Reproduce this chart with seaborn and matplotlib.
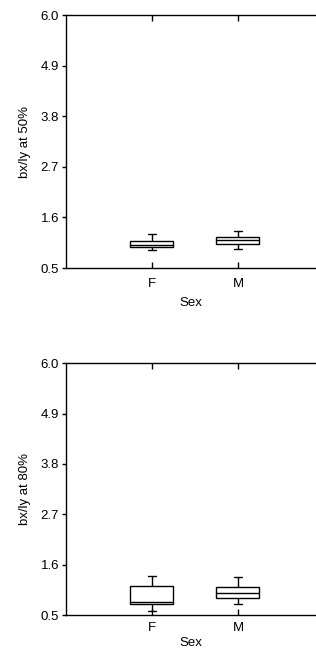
import matplotlib
matplotlib.use("Agg")
import matplotlib.pyplot as plt
import seaborn as sns
import pandas as pd
import numpy as np

sns.set_style("ticks")
plt.rcParams['font.family'] = ['Liberation Sans', 'DejaVu Sans']
plt.rcParams['text.color'] = 'black'
plt.rcParams['axes.labelcolor'] = 'black'
plt.rcParams['xtick.color'] = 'black'
plt.rcParams['ytick.color'] = 'black'

categories = ["F", "M"]
# five-number summaries (low whisker, Q1, median, Q3, high whisker)
vals_50_F = [0.89, 0.96, 1.00, 1.09, 1.24]
vals_50_M = [0.92, 1.02, 1.10, 1.18, 1.31]
vals_80_F = [0.59, 0.73, 0.79, 1.14, 1.36]
vals_80_M = [0.74, 0.88, 0.99, 1.12, 1.34]
yticks = [0.5, 1.6, 2.7, 3.8, 4.9, 6.0]
ytick_labels = ["0.5", "1.6", "2.7", "3.8", "4.9", "6.0"]

df50 = pd.DataFrame({"Sex": ["F"] * 5 + ["M"] * 5, "val": vals_50_F + vals_50_M})
df80 = pd.DataFrame({"Sex": ["F"] * 5 + ["M"] * 5, "val": vals_80_F + vals_80_M})

fig = plt.figure(figsize=(3.16, 6.54), dpi=100)
W, H = 316, 654
ax1 = fig.add_axes([66 / W, 1 - 268 / H, 250 / W, 253 / H])
ax2 = fig.add_axes([66 / W, 1 - 615 / H, 250 / W, 251.7 / H])

for ax, df, lab, xpad in [(ax1, df50, "bx/ly at 50%", 5), (ax2, df80, "bx/ly at 80%", 2)]:
    sns.boxplot(data=df, x="Sex", y="val", order=categories, ax=ax, whis=np.inf,
                width=0.5, color="white", linecolor="black", linewidth=1.0,
                capwidths=0.1)
    ax.set_ylim(0.5, 6.0)
    ax.set_xlim(-1.0, 1.907)
    ax.set_yticks(yticks)
    ax.set_yticklabels(ytick_labels, fontsize=9.5)
    ax.set_xticks([0, 1])
    ax.set_xticklabels(categories, fontsize=9.5)
    ax.set_xlabel("Sex", fontsize=9.5, labelpad=xpad)
    ax.set_ylabel(lab, fontsize=9.5, labelpad=7)
    for s in ["left", "top", "bottom"]:
        ax.spines[s].set_visible(True)
        ax.spines[s].set_linewidth(1.0)
        ax.spines[s].set_color("black")
    ax.spines["right"].set_visible(False)
    ax.tick_params(axis="x", direction="in", top=True, bottom=True, length=4,
                   width=1.0, color="black", pad=7 if ax is ax1 else 5)
    ax.tick_params(axis="y", direction="out", length=3, width=1.0, color="black", pad=2)

fig.savefig("out.png", dpi=100)
